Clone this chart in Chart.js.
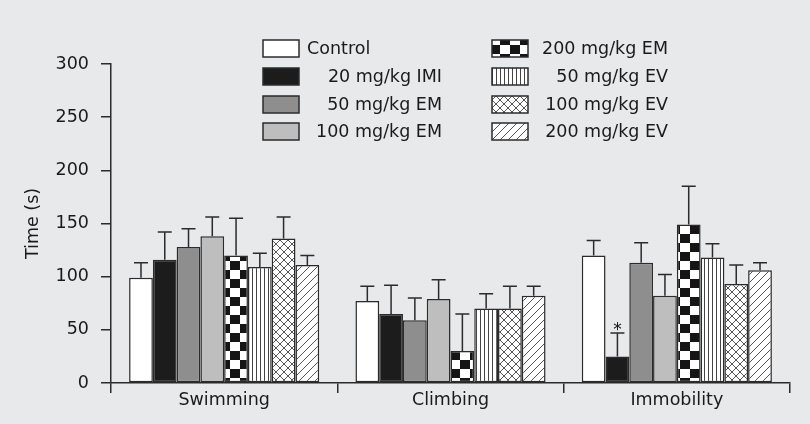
<!DOCTYPE html>
<html>
<head>
<meta charset="utf-8">
<script src="https://cdn.jsdelivr.net/npm/chart.js@4.4.0/dist/chart.umd.min.js"></script>
<style>
  html, body { margin: 0; padding: 0; background: #e8e9eb; }
  canvas { display: block; }
</style>
</head>
<body>
<canvas id="fstChart" width="810" height="424"></canvas>
<script>
// Données (temps en secondes, moyenne + SEM)
const categories = ['Swimming', 'Climbing', 'Immobility'];
const seriesNames = ['Control', '20 mg/kg IMI', '50 mg/kg EM', '100 mg/kg EM',
                     '200 mg/kg EM', '50 mg/kg EV', '100 mg/kg EV', '200 mg/kg EV'];

const control = [99, 77, 120];
const imi20 = [116, 65, 25];
const em50 = [128, 59, 113];
const em100 = [138, 79, 82];
const em200 = [120, 30, 149];
const ev50 = [109, 70, 118];
const ev100 = [136, 70, 93];
const ev200 = [111, 82, 106];

const controlErr = [14, 14, 14];
const imi20Err = [26, 27, 22];
const em50Err = [17, 21, 19];
const em100Err = [18, 18, 20];
const em200Err = [35, 35, 36];
const ev50Err = [13, 14, 13];
const ev100Err = [20, 21, 18];
const ev200Err = [9, 9, 7];

const yMin = 0, yMax = 300, yStep = 50;

// Marque de significativité : série 1 (IMI), catégorie 2 (Immobility)
const sigMarks = [{ series: 1, category: 2, text: '*' }];

const FONT = 'DejaVu Sans';
const INK = '#2b2b2b';

// Motifs de remplissage
function makePattern(kind) {
    const c = document.createElement('canvas');
    const g = c.getContext('2d');
    if (kind === 'checker') {
        c.width = 20; c.height = 18;
        g.fillStyle = '#ffffff'; g.fillRect(0, 0, 20, 18);
        g.fillStyle = '#151515';
        g.fillRect(0, 0, 10, 9); g.fillRect(10, 9, 10, 9);
    } else if (kind === 'vlines') {
        c.width = 4; c.height = 4;
        g.fillStyle = '#ffffff'; g.fillRect(0, 0, 4, 4);
        g.fillStyle = '#444444'; g.fillRect(0, 0, 1, 4);
    } else if (kind === 'cross') {
        c.width = 8; c.height = 8;
        g.fillStyle = '#ffffff'; g.fillRect(0, 0, 8, 8);
        g.strokeStyle = '#555555'; g.lineWidth = 1;
        g.beginPath();
        g.moveTo(-1, -1); g.lineTo(9, 9);
        g.moveTo(-1, 9); g.lineTo(9, -1);
        g.stroke();
    } else if (kind === 'hatch') {
        c.width = 8; c.height = 8;
        g.fillStyle = '#ffffff'; g.fillRect(0, 0, 8, 8);
        g.strokeStyle = '#555555'; g.lineWidth = 1;
        g.beginPath();
        g.moveTo(0, 8); g.lineTo(8, 0);
        g.moveTo(-1, 1); g.lineTo(1, -1);
        g.moveTo(7, 9); g.lineTo(9, 7);
        g.stroke();
    }
    return g.createPattern(c, 'repeat');
}

const fills = [
    '#ffffff', '#1c1c1c', '#8e8e8e', '#bebebe',
    makePattern('checker'), makePattern('vlines'), makePattern('cross'), makePattern('hatch')
];

const seriesValues = [control, imi20, em50, em100, em200, ev50, ev100, ev200];
const seriesErrors = [controlErr, imi20Err, em50Err, em100Err, em200Err, ev50Err, ev100Err, ev200Err];

// Fond gris de toute la figure
const background = {
    id: 'background',
    beforeDraw(chart) {
        const ctx = chart.ctx;
        ctx.save();
        ctx.fillStyle = '#e8e9eb';
        ctx.fillRect(0, 0, chart.width, chart.height);
        ctx.restore();
    }
};

// Barres d'erreur (vers le haut seulement) + astérisque
const errorBars = {
    id: 'errorBars',
    afterDatasetsDraw(chart) {
        const ctx = chart.ctx;
        const y = chart.scales.y;
        ctx.save();
        ctx.strokeStyle = INK;
        ctx.lineWidth = 1.5;
        chart.data.datasets.forEach((ds, i) => {
            chart.getDatasetMeta(i).data.forEach((bar, j) => {
                const top = y.getPixelForValue(ds.data[j] + ds.errors[j]);
                ctx.beginPath();
                ctx.moveTo(bar.x, bar.y);
                ctx.lineTo(bar.x, top);
                ctx.moveTo(bar.x - 7, top);
                ctx.lineTo(bar.x + 7, top);
                ctx.stroke();
            });
        });
        ctx.fillStyle = '#111';
        ctx.font = `17px ${FONT}`;
        ctx.textAlign = 'center';
        ctx.textBaseline = 'alphabetic';
        sigMarks.forEach(m => {
            const ds = chart.data.datasets[m.series];
            const bar = chart.getDatasetMeta(m.series).data[m.category];
            const top = y.getPixelForValue(ds.data[m.category] + ds.errors[m.category]);
            ctx.fillText(m.text, bar.x, top + 2);
        });
        ctx.restore();
    }
};

// Légende sur deux colonnes
const customLegend = {
    id: 'customLegend',
    afterDraw(chart) {
        const ctx = chart.ctx;
        const rows = [40, 68, 96, 123];
        const cols = [263, 492];
        ctx.save();
        ctx.font = `17.5px ${FONT}`;
        ctx.textBaseline = 'middle';
        seriesNames.forEach((name, i) => {
            const col = Math.floor(i / 4);
            const row = i % 4;
            const x = cols[col], y = rows[row];
            ctx.fillStyle = fills[i];
            ctx.fillRect(x, y, 36, 17);
            ctx.strokeStyle = INK;
            ctx.lineWidth = 1.5;
            ctx.strokeRect(x, y, 36, 17);
            ctx.fillStyle = '#1a1a1a';
            if (i === 0) {
                ctx.textAlign = 'left';
                ctx.fillText(name, 307, y + 9);
            } else {
                ctx.textAlign = 'right';
                ctx.fillText(name, col === 0 ? 442 : 668, y + 9);
            }
        });
        ctx.restore();
    }
};

const ctx = document.getElementById('fstChart').getContext('2d');
new Chart(ctx, {
    type: 'bar',
    data: {
        labels: categories,
        datasets: seriesNames.map((name, i) => ({
            label: name,
            data: seriesValues[i],
            errors: seriesErrors[i],
            backgroundColor: fills[i],
            borderColor: INK,
            borderWidth: 1.5,
            borderSkipped: false,
            categoryPercentage: 0.84,
            barPercentage: 1
        }))
    },
    options: {
        responsive: false,
        animation: false,
        devicePixelRatio: 1,
        layout: { padding: { top: 64, right: 20, bottom: 0, left: 0 } },
        plugins: {
            legend: { display: false },
            tooltip: { enabled: false }
        },
        scales: {
            x: {
                afterFit(scale) { scale.height = 41; },
                grid: {
                    offset: true,
                    drawOnChartArea: false,
                    drawTicks: true,
                    tickLength: 10,
                    color: INK,
                    lineWidth: 1.5
                },
                border: { display: true, color: INK, width: 1.5 },
                ticks: {
                    color: '#1a1a1a',
                    font: { family: FONT, size: 17.5 },
                    padding: -3
                }
            },
            y: {
                min: yMin,
                max: yMax,
                afterFit(scale) { scale.width = 111; },
                grid: {
                    drawOnChartArea: false,
                    drawTicks: true,
                    tickLength: 10,
                    color: INK,
                    lineWidth: 1.5
                },
                border: { display: true, color: INK, width: 1.5 },
                ticks: {
                    stepSize: yStep,
                    color: '#1a1a1a',
                    font: { family: FONT, size: 17.5 },
                    padding: 12
                },
                title: {
                    display: true,
                    text: 'Time (s)',
                    color: '#1a1a1a',
                    font: { family: FONT, size: 17.5 },
                    padding: { top: 23, bottom: 0 }
                }
            }
        }
    },
    plugins: [background, errorBars, customLegend]
});
</script>
</body>
</html>
